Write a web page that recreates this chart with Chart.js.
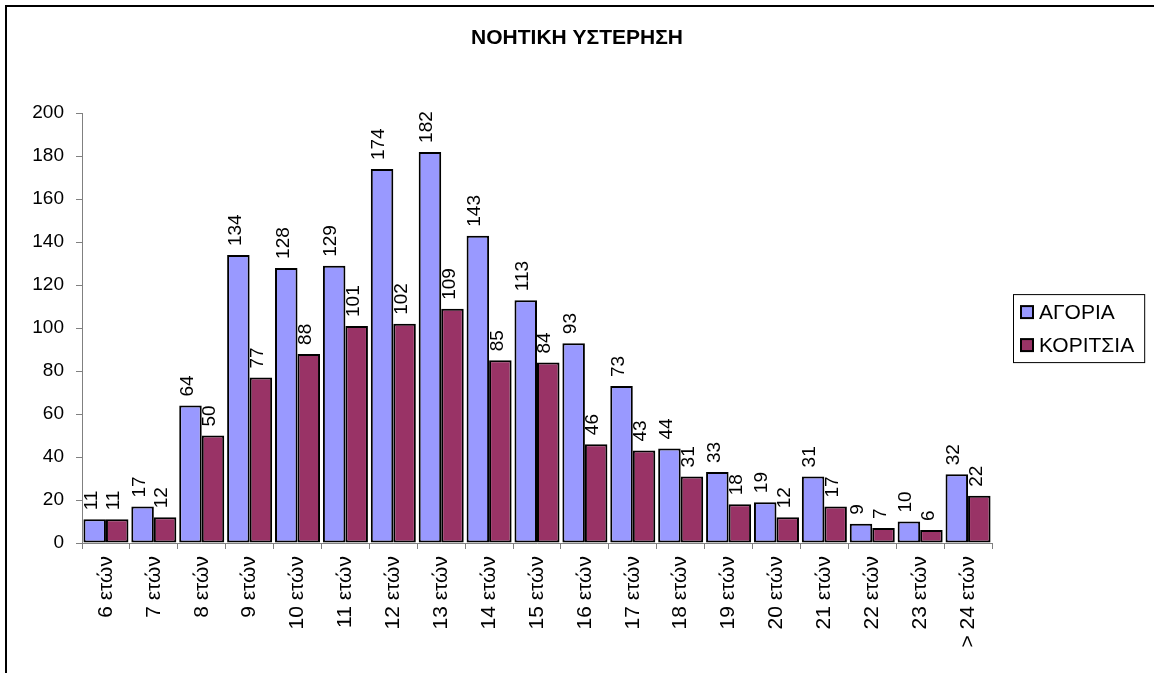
<!DOCTYPE html>
<html>
<head>
<meta charset="utf-8">
<script src="https://cdn.jsdelivr.net/npm/chart.js@4"></script>
<style>
  body { margin: 0; background: #fff; }
  canvas { display: block; }
</style>
</head>
<body>
<canvas id="chart" width="1154" height="673"></canvas>
<script>
// ages
const categories = ['6 ετών', '7 ετών', '8 ετών', '9 ετών', '10 ετών', '11 ετών', '12 ετών',
  '13 ετών', '14 ετών', '15 ετών', '16 ετών', '17 ετών', '18 ετών', '19 ετών', '20 ετών',
  '21 ετών', '22 ετών', '23 ετών', '> 24 ετών'];
const boys = [11, 17, 64, 134, 128, 129, 174, 182, 143, 113, 93, 73, 44, 33, 19, 31, 9, 10, 32];
const girls = [11, 12, 50, 77, 88, 101, 102, 109, 85, 84, 46, 43, 31, 18, 12, 17, 7, 6, 22];
const seriesNames = ['ΑΓΟΡΙΑ', 'ΚΟΡΙΤΣΙΑ'];
const yTicks = [0, 20, 40, 60, 80, 100, 120, 140, 160, 180, 200];

const FONT = "'Liberation Sans', Arial, sans-serif";
Chart.defaults.font.family = FONT;
Chart.defaults.font.size = 19;
Chart.defaults.color = '#000';

// white page + the frame lines of the chart object
const framePlugin = {
  id: 'frame',
  beforeDraw(chart) {
    const c = chart.ctx;
    c.save();
    c.fillStyle = '#fff';
    c.fillRect(0, 0, chart.width, chart.height);
    c.fillStyle = '#000';
    c.fillRect(5, 5, chart.width, 2);
    c.fillRect(5, 5, 2, chart.height);
    c.restore();
  }
};

// rotated value labels above each bar
const valueLabels = {
  id: 'valueLabels',
  afterDatasetsDraw(chart) {
    const c = chart.ctx;
    c.save();
    c.font = '19px ' + FONT;
    c.fillStyle = '#000';
    c.textAlign = 'left';
    c.textBaseline = 'middle';
    chart.data.datasets.forEach((ds, i) => {
      chart.getDatasetMeta(i).data.forEach((bar, j) => {
        c.save();
        c.translate(bar.x - 3, bar.y - 9);
        c.rotate(-Math.PI / 2);
        c.fillText(ds.data[j], 0, 0);
        c.restore();
      });
    });
    c.restore();
  }
};

// boxed legend at right, like Excel
const boxLegend = {
  id: 'boxLegend',
  afterDraw(chart) {
    const c = chart.ctx;
    const area = chart.chartArea;
    c.save();
    c.font = '21px ' + FONT;
    let maxW = 0;
    chart.data.datasets.forEach(ds => { maxW = Math.max(maxW, c.measureText(ds.label).width); });
    const rowH = 33;
    const h = 68;
    const w = 26 + maxW + 10;
    const left = area.right + 21;
    const top = (area.top + area.bottom) / 2 - h / 2;
    c.strokeStyle = '#000';
    c.lineWidth = 1;
    c.strokeRect(left + 0.5, top + 0.5, w, h);
    chart.data.datasets.forEach((ds, i) => {
      const cy = top + 18 + i * rowH;
      c.fillStyle = ds.backgroundColor;
      c.fillRect(left + 8, cy - 6, 12, 12);
      c.lineWidth = 2;
      c.strokeRect(left + 8, cy - 6, 12, 12);
      c.fillStyle = '#000';
      c.textBaseline = 'middle';
      c.fillText(ds.label, left + 26, cy + 1);
    });
    c.restore();
  }
};

new Chart(document.getElementById('chart'), {
  type: 'bar',
  data: {
    labels: categories,
    datasets: [
      { label: seriesNames[0], data: boys, backgroundColor: '#9999FF' },
      { label: seriesNames[1], data: girls, backgroundColor: '#993366' }
    ]
  },
  options: {
    responsive: false,
    animation: false,
    devicePixelRatio: 1,
    layout: { padding: { top: 10, left: 0, right: 0, bottom: 0 } },
    datasets: {
      bar: {
        borderColor: '#000',
        borderWidth: 2,
        borderSkipped: false,
        categoryPercentage: 0.94,
        barPercentage: 1
      }
    },
    plugins: {
      legend: { display: false },
      tooltip: { enabled: false },
      title: {
        display: true,
        text: 'ΝΟΗΤΙΚΗ ΥΣΤΕΡΗΣΗ',
        color: '#000',
        font: { size: 21, weight: 'bold' },
        padding: { top: 16, bottom: 62 }
      }
    },
    scales: {
      x: {
        afterFit(scale) { scale.height = 130; },
        grid: { display: true, drawOnChartArea: false, tickLength: 6, color: '#808080' },
        border: { color: '#808080', width: 1 },
        ticks: { minRotation: 90, maxRotation: 90, padding: 7, autoSkip: false, color: '#000', font: { size: 21 } }
      },
      y: {
        min: 0,
        max: 200,
        afterFit(scale) { scale.width = 82; },
        afterBuildTicks(scale) { scale.ticks = yTicks.map(v => ({ value: v })); },
        grid: { display: true, drawOnChartArea: false, tickLength: 6, color: '#808080' },
        border: { color: '#808080', width: 1 },
        ticks: { padding: 12, color: '#000' }
      },
      // empty right-hand strip that holds the legend
      legendSpace: {
        type: 'linear',
        axis: 'y',
        position: 'right',
        afterFit(scale) { scale.width = 162; },
        grid: { display: false },
        border: { display: false },
        ticks: { display: false }
      }
    }
  },
  plugins: [framePlugin, valueLabels, boxLegend]
});
</script>
</body>
</html>
